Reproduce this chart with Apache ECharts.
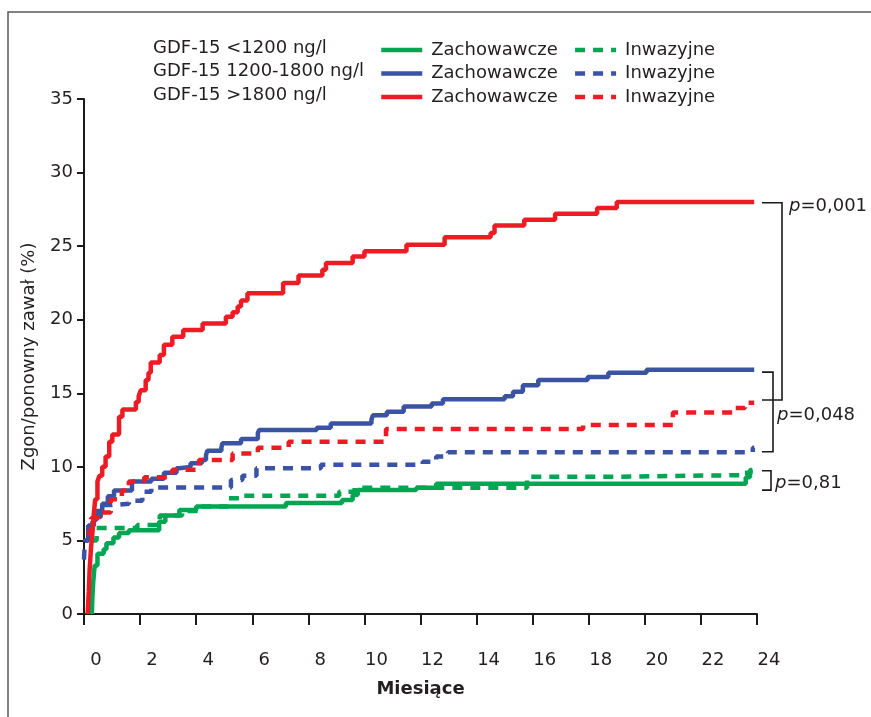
<!DOCTYPE html>
<html><head><meta charset="utf-8">
<script src="https://cdn.jsdelivr.net/npm/echarts@6/dist/echarts.min.js"></script>
<style>html,body{margin:0;padding:0;background:#fff}#c{width:871px;height:717px}</style>
</head><body><div id="c"></div>
<script>
// ---- data (months, % event) ----
const xTicks = [0,2,4,6,8,10,12,14,16,18,20,22,24];
const groupLabels = ['GDF-15 <1200 ng/l','GDF-15 1200-1800 ng/l','GDF-15 >1800 ng/l'];
const strategyLabels = ['Zachowawcze','Inwazyjne'];
const greenCons = [[0.28,0],[0.3,1.2],[0.33,2.2],[0.38,3.3],[0.48,4.1],[0.7,4.4],[0.8,4.8],[1.05,5.2],[1.25,5.5],[1.6,5.7],[2.68,6.27],[2.9,6.7],[3.4,7.07],[4.0,7.3],[7.2,7.55],[9.2,7.74],[9.58,8.08],[9.76,8.42],[11.85,8.58],[12.56,8.85],[23.6,9.3],[23.75,9.67],[23.85,9.67]];
const greenInv = [[0.25,5.0],[0.45,5.84],[1.9,6.05],[2.7,6.7],[3.5,7.0],[4.2,7.3],[5.12,7.86],[5.54,8.04],[9.1,8.3],[9.65,8.58],[15.8,9.33],[19.1,9.44],[23.5,9.6],[23.75,9.78],[23.9,9.78]];
const blueCons = [[0.05,5.0],[0.15,6.0],[0.35,6.4],[0.45,7.0],[0.65,7.5],[0.85,8.0],[1.07,8.4],[1.71,9.0],[2.4,9.2],[2.85,9.6],[3.3,9.9],[3.4,10.0],[3.8,10.25],[4.2,10.46],[4.35,10.8],[4.4,11.1],[4.9,11.3],[4.93,11.6],[5.6,11.9],[6.2,12.3],[6.25,12.5],[8.3,12.65],[8.8,12.95],[10.25,13.2],[10.3,13.5],[10.8,13.75],[11.4,14.1],[12.4,14.3],[12.8,14.6],[15.0,14.8],[15.3,15.1],[15.65,15.55],[16.2,15.9],[17.96,16.1],[18.7,16.4],[20.06,16.6],[23.9,16.6]];
const blueInv = [[0,3.7],[0.03,5.0],[0.15,6.0],[0.3,6.6],[0.6,7.4],[1.0,7.5],[1.6,7.7],[2.08,8.3],[2.4,8.6],[5.24,9.1],[5.65,9.4],[6.15,9.9],[8.45,10.15],[12.08,10.35],[12.56,10.7],[12.98,11.0],[23.85,11.3],[23.9,11.3]];
const redCons = [[0.13,0],[0.17,1.5],[0.2,3],[0.25,4.5],[0.3,5.5],[0.35,6.8],[0.4,7.8],[0.48,9.0],[0.55,9.4],[0.65,10.0],[0.77,10.7],[0.9,11.7],[1.01,12.2],[1.25,13.4],[1.37,13.9],[1.85,14.4],[1.95,14.8],[2.02,15.2],[2.2,15.9],[2.3,16.4],[2.38,17.1],[2.7,17.6],[2.85,18.3],[3.15,18.85],[3.54,19.3],[4.23,19.75],[5.06,20.2],[5.3,20.5],[5.48,20.9],[5.6,21.3],[5.83,21.8],[7.1,22.5],[7.65,23.0],[8.5,23.4],[8.63,23.85],[9.58,24.3],[10.0,24.66],[11.5,25.1],[12.86,25.6],[14.5,25.9],[14.64,26.4],[15.7,26.8],[16.8,27.2],[18.3,27.6],[19.0,28.0],[23.9,28.0]];
const redInv = [[0.1,5.5],[0.25,6.5],[0.5,6.9],[0.95,7.8],[1.35,8.4],[1.6,9.0],[2.15,9.3],[3.15,9.8],[4.1,10.46],[5.3,10.9],[6.2,11.3],[7.3,11.7],[10.77,12.57],[17.8,12.84],[21.0,13.7],[23.15,14.0],[23.57,14.35],[23.9,14.35]];
const bracketTop = [27.95, 16.44, 9.74];
const bracketBottom = [14.54, 11.03, 8.42];
const pLabels = ['0,001','0,048','0,81'];

const FONT = 'DejaVu Sans';
const TXT = '#231f20';
const colors = ['#00a651','#3a53a4','#ed1c24'];
const groupData = [[greenCons, greenInv],[blueCons, blueInv],[redCons, redInv]];
const LW = 4.5;

const series = [];
groupData.forEach((pair, g) => {
  pair.forEach((d, k) => {
    series.push({
      name: strategyLabels[k] + '|' + g,
      type: 'line', step: 'end', data: d, symbol: 'none', silent: true,
      z: 2 + g,
      lineStyle: { color: colors[g], width: LW, type: k === 0 ? 'solid' : [10, 8] },
      itemStyle: { color: colors[g] }
    });
  });
});

const bracketXOff = [25, 16, 14];
series.push({
  type: 'custom', silent: true, z: 10,
  data: bracketTop.map((t, i) => [i, t, bracketBottom[i]]),
  renderItem: function (params, api) {
    const i = api.value(0);
    const pt = api.coord([24, api.value(1)]);
    const pb = api.coord([24, api.value(2)]);
    const x0 = pt[0] + 5, x1 = pt[0] + bracketXOff[i];
    const ty = i === 0 ? pt[1] + 4 : (pt[1] + pb[1]) / 2 + 3;
    const tx = i === 0 ? x1 + 7 : x1 + 4;
    return {
      type: 'group',
      children: [
        { type: 'polyline', shape: { points: [[x0, pt[1]], [x1, pt[1]], [x1, pb[1]], [x0, pb[1]]] },
          style: { stroke: '#1a1a1a', lineWidth: 1.6, fill: null } },
        { type: 'text', x: tx, y: ty,
          style: { text: '{i|p}=' + pLabels[i], rich: { i: { fontStyle: 'italic', fontFamily: FONT, fontSize: 18, fill: TXT } },
                   fontFamily: FONT, fontSize: 18, fill: TXT, verticalAlign: 'middle', align: 'left' } }
      ]
    };
  }
});

const legends = groupData.map((pair, g) => ({
  left: 379, top: 41 + g * 23.5, padding: 0, itemWidth: 41, itemHeight: 14, itemGap: 15,
  orient: 'horizontal', selectedMode: false,
  data: [strategyLabels[0] + '|' + g, strategyLabels[1] + '|' + g],
  formatter: n => n.split('|')[0],
  itemStyle: { opacity: 0 },
  lineStyle: { width: LW },
  textStyle: { fontFamily: FONT, fontSize: 18, color: TXT, padding: [0, 0, 0, 4] }
}));

const chart = echarts.init(document.getElementById('c'), null, { renderer: 'canvas' });
chart.setOption({
  animation: false,
  backgroundColor: '#fff',
  textStyle: { fontFamily: FONT },
  grid: { left: 84, right: 114, top: 99, bottom: 103 },
  legend: legends,
  graphic: [
    { type: 'rect', shape: { x: 8, y: 12, width: 1000, height: 1000 }, style: { fill: null, stroke: '#5a5a5a', lineWidth: 1.5 }, z: 0, silent: true }
  ].concat(groupLabels.map((t, g) => ({
    type: 'text', x: 153, y: 48 + g * 23.5,
    style: { text: t, fontFamily: FONT, fontSize: 18, fill: TXT, verticalAlign: 'middle' }
  }))),
  xAxis: {
    type: 'value', min: 0, max: 24, interval: 2, offset: 21,
    name: 'Miesiące', nameLocation: 'middle', nameGap: 45,
    nameTextStyle: { fontFamily: FONT, fontSize: 18, fontWeight: 'bold', color: TXT },
    axisLine: { show: true, lineStyle: { color: '#1a1a1a', width: 2 } },
    axisTick: { show: true, length: 11, lineStyle: { color: '#1a1a1a', width: 2 } },
    axisLabel: { fontFamily: FONT, fontSize: 18, color: TXT, margin: 16, padding: [0, 0, 0, 24],
                 formatter: v => (xTicks.indexOf(v) >= 0 ? String(v) : '') },
    splitLine: { show: false }
  },
  yAxis: {
    type: 'value', min: 0, max: 35, interval: 5,
    name: 'Zgon/ponowny zawał (%)', nameLocation: 'middle', nameGap: 46, nameRotate: 90,
    nameTextStyle: { fontFamily: FONT, fontSize: 18, color: TXT },
    axisLine: { show: true, lineStyle: { color: '#1a1a1a', width: 2 } },
    axisTick: { show: true, length: 7, lineStyle: { color: '#1a1a1a', width: 2 } },
    axisLabel: { fontFamily: FONT, fontSize: 18, color: TXT, margin: 11 },
    splitLine: { show: false }
  },
  series: series
});
</script></body></html>
